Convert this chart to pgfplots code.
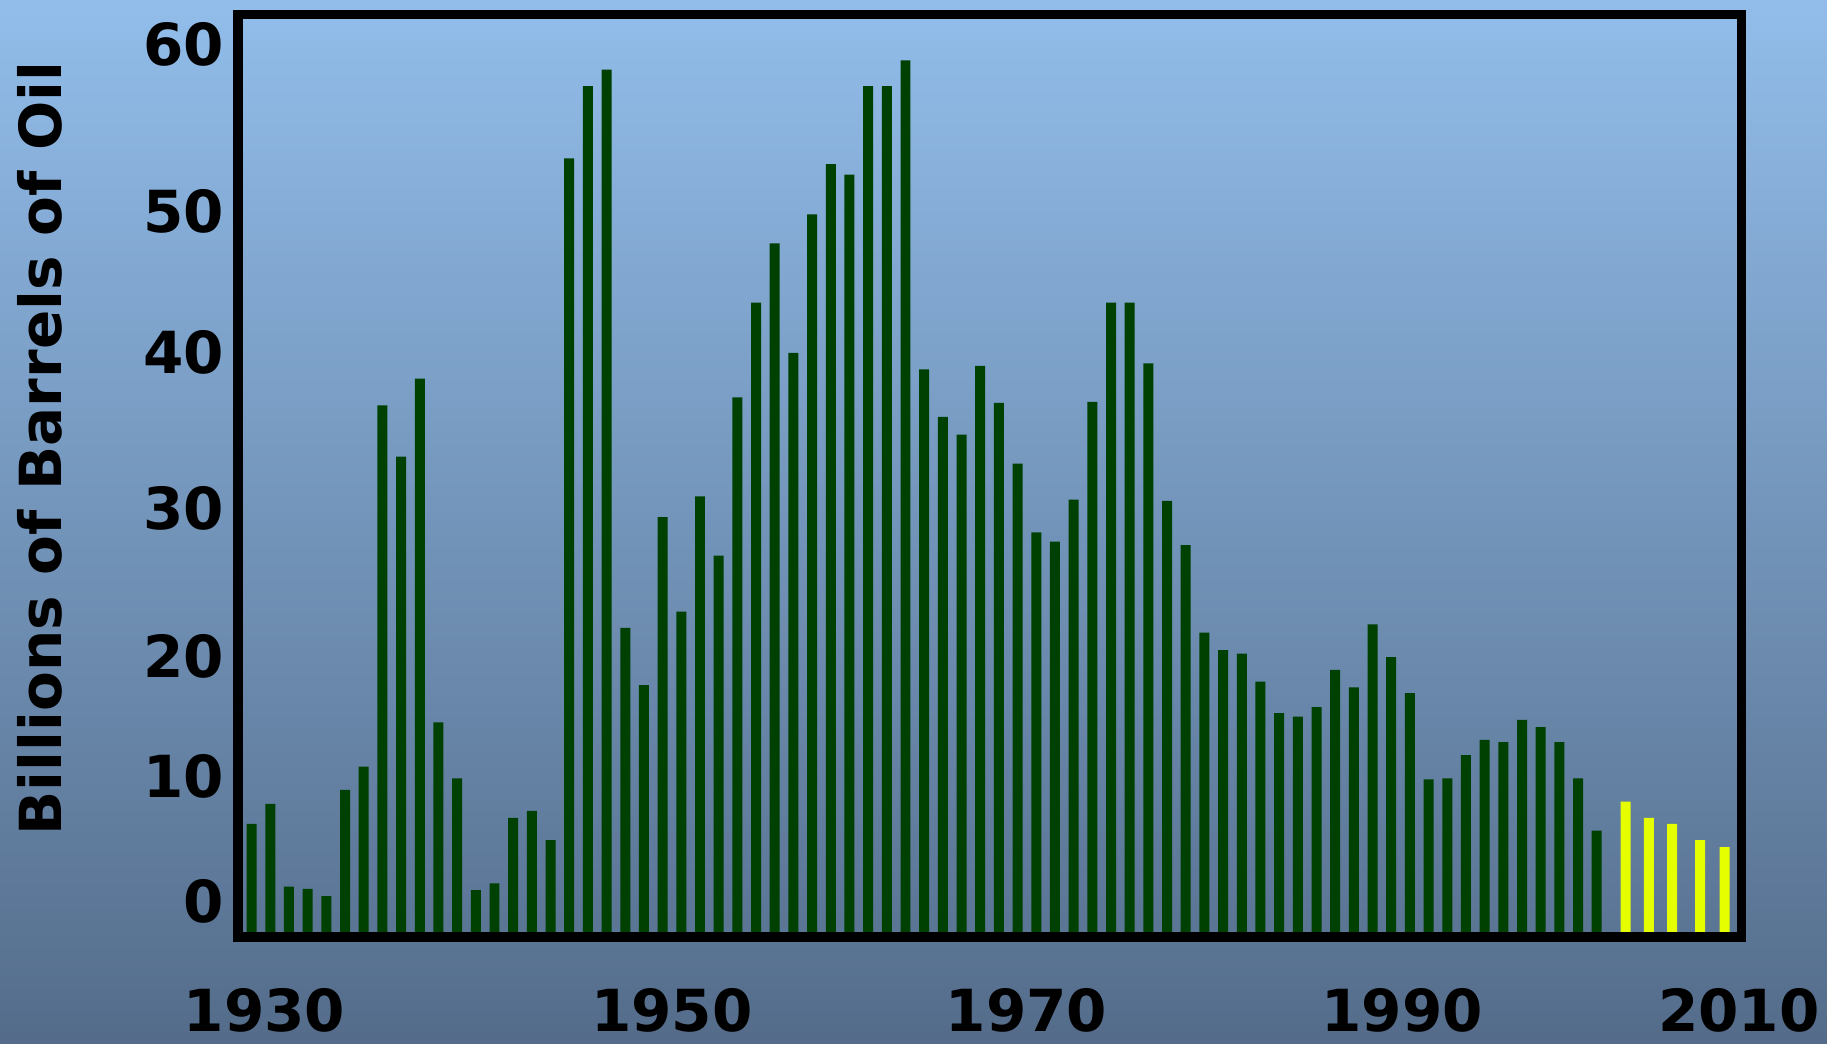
\documentclass[border=0pt]{standalone}
\usepackage{fontspec}
\setmainfont{DejaVu Sans}
\usepackage{pgfplots}
\usepackage{pgfplotstable}
\pgfplotsset{compat=1.18}
\definecolor{bgtop}{RGB}{146,189,234}
\definecolor{bgmid}{RGB}{120,152,190}
\definecolor{bgbot}{RGB}{84,108,138}
\definecolor{oilgreen}{RGB}{0,64,0}
\definecolor{oilyellow}{RGB}{230,255,0}

% discoveries per year (billions of barrels)
\pgfplotstableread{
year val
1930 7.36
1931 8.71
1932 3.09
1933 2.93
1934 2.45
1935 9.66
1936 11.24
1937 35.78
1938 32.30
1939 37.60
1940 14.25
1941 10.45
1942 2.85
1943 3.32
1944 7.76
1945 8.23
1946 6.25
1947 52.56
1948 57.47
1949 58.58
1950 20.66
1951 16.78
1952 28.18
1953 21.77
1954 29.60
1955 25.57
1956 36.33
1957 42.75
1958 46.78
1959 39.34
1960 48.76
1961 52.17
1962 51.45
1963 57.47
1964 57.47
1965 59.21
1966 38.23
1967 34.99
1968 33.80
1969 38.47
1970 35.94
1971 31.82
1972 27.15
1973 26.52
1974 29.37
1975 36.02
1976 42.75
1977 42.75
1978 38.63
1979 29.29
1980 26.28
1981 20.34
1982 19.16
1983 18.92
1984 17.02
1985 14.88
1986 14.64
1987 15.28
1988 17.81
1989 16.62
1990 20.90
1991 18.68
1992 16.23
1993 10.37
1994 10.45
1995 12.03
1996 13.06
1997 12.90
1998 14.41
1999 13.93
2000 12.90
2001 10.45
2002 6.89
}\found

% recent years, drawn in yellow
\pgfplotstableread{
year val
2003.54 8.87
2004.79 7.76
2006.04 7.36
2007.54 6.25
2008.84 5.78
}\recent

\begin{document}
\begin{tikzpicture}
\path[use as bounding box] (-59.5pt,-26.75pt) rectangle (397.25pt,234.25pt);
\shade[top color=bgtop, middle color=bgmid, bottom color=bgbot] (-59.5pt,-26.75pt) rectangle (397.25pt,234.25pt);
\begin{axis}[scale only axis, width=375.875pt, height=230.625pt, at={(0,0)}, anchor=south west,
  xmin=1929.27, xmax=2009.75, ymin=-0.33, ymax=62.33,
  axis on top, axis line style={line width=2.3pt, line cap=rect},
  major tick length=0pt,
  xtick={1930.69,1952.50,1971.48,1991.58,2009.60},
  xticklabels={1930,1950,1970,1990,2010},
  ytick={2.12,10.61,18.76,28.8,39.35,48.93,60.27},
  yticklabels={0,10,20,30,40,50,60},
  tick label style={font=\fontsize{14.5}{17}\selectfont\bfseries},
  xticklabel style={yshift=-9.25pt},
  ylabel={Billions of Barrels of Oil},
  ylabel style={font=\fontsize{14.5}{17}\selectfont\bfseries, at={(axis description cs:-0.1171,0.5295)}, anchor=base},
  /pgf/number format/assume math mode=true]
  \addplot[ybar, bar width=0.535, fill=oilgreen, draw=none] table[x=year, y=val] {\found};
  \addplot[ybar, bar width=0.535, fill=oilyellow, draw=none] table[x=year, y=val] {\recent};
\end{axis}
\end{tikzpicture}
\end{document}
